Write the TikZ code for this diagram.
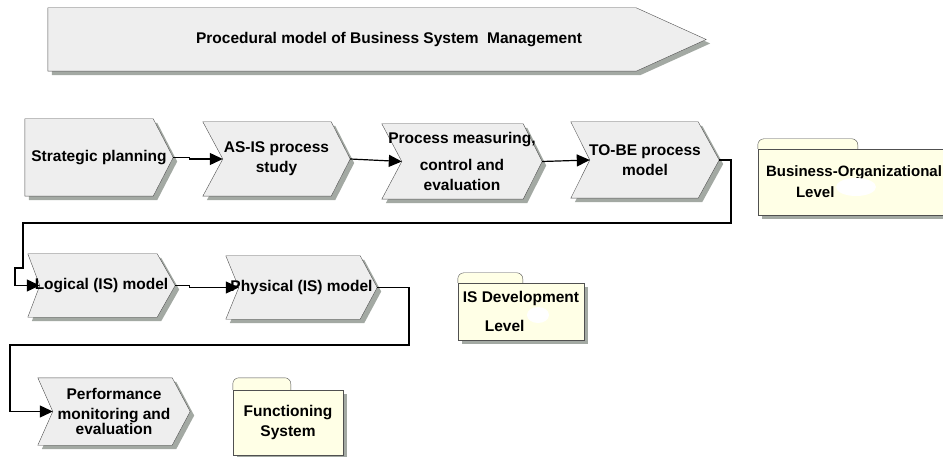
\documentclass[tikz,border=0pt]{standalone}
\usepackage{fontspec}
\setmainfont{Liberation Sans}
\usetikzlibrary{shadows,arrows.meta,backgrounds}
\definecolor{chevfill}{HTML}{EEEEEE}
\definecolor{chevline}{HTML}{505050}
\definecolor{shade}{HTML}{A3A9A3}
\definecolor{foldfill}{HTML}{FFFFE6}
\tikzset{
  chev/.style={rectangle, inner sep=0pt, align=center},
  chevbody/.style={draw=chevline, fill=chevfill,
    drop shadow={shadow xshift=4pt, shadow yshift=-4pt, fill=shade, opacity=1}},
  folder/.style={rectangle, draw=chevline, fill=foldfill, inner sep=0pt, align=center,
    drop shadow={shadow xshift=4pt, shadow yshift=-4pt, fill=shade, opacity=1}},
  tab/.style={draw=chevline, fill=foldfill, rounded corners=6pt},
  link/.style={->, line width=1.2pt, black},
}
\begin{document}
\begin{tikzpicture}[x=1pt,y=-1pt,font=\fontsize{15.5}{20}\selectfont\bfseries,
    >={Triangle[length=13pt,width=12pt]}]
\useasboundingbox (0,0) rectangle (943,457);
% banner
\node[chev, minimum width=658pt, minimum height=63pt] (banner) at (377,39.5)
  {\hspace*{24pt}Procedural model of Business System\ \ Management};
% business-organizational level
\node[chev, minimum width=148pt, minimum height=77pt] (strat) at (99,157.5) {Strategic planning};
\node[chev, minimum width=147pt, minimum height=74pt] (asis) at (276.5,159) {AS-IS process\\study};
\node[chev, minimum width=160pt, minimum height=75pt] (meas) at (462,161.5) {Process measuring,\\[7pt]control and\\evaluation};
\node[chev, minimum width=148pt, minimum height=76pt] (tobe) at (645,160) {TO-BE process\\model};
% is development level
\node[chev, minimum width=147pt, minimum height=63pt] (logic) at (101.5,285.5) {Logical (IS) model};
\node[chev, minimum width=151pt, minimum height=63pt] (phys) at (301.5,287.5) {Physical (IS) model};
% functioning system
\node[chev, minimum width=152pt, minimum height=67pt] (perf) at (114,411.5) {Performance\\monitoring and\\[-5pt]evaluation};
% chevron outlines behind the texts
\begin{scope}[on background layer]
\foreach \n/\p/\d in {banner/70/0, strat/20/0, asis/19/20, meas/19/20, tobe/21/19,
    logic/18/12, phys/17/13, perf/18/15}{
  \draw[chevbody] (\n.north west) -- ([xshift=-\p pt]\n.north east) -- (\n.east)
    -- ([xshift=-\p pt]\n.south east) -- (\n.south west) -- ([xshift=\d pt]\n.west) -- cycle;
  \coordinate (\n-in) at ([xshift=\d pt]\n.west);
}
\end{scope}
% levels
\node[folder, minimum width=192pt, minimum height=66pt, align=left,
  font=\fontsize{15}{20}\selectfont\bfseries] (bizlvl) at (854,182)
  {Business-Organizational\\[1pt]\hspace*{30pt}Level};
\draw[tab] (bizlvl.north west) -- ++(0,-10) -- ++(100,0) -- ++(0,10);
\fill[white] (856,187) ellipse (20 and 9);
\node[folder, minimum width=126pt, minimum height=57pt, align=left] (islvl) at (521,311.5)
  {IS Development\\[9pt]\hspace*{22pt}Level};
\draw[tab] (islvl.north west) -- ++(0,-10) -- ++(65,0) -- ++(0,10);
\fill[white] (538,315) ellipse (11 and 8);
\node[folder, minimum width=110pt, minimum height=65pt] (fnlvl) at (288,422.5)
  {Functioning\\System};
\draw[tab] (fnlvl.north west) -- ++(0,-12) -- ++(58,0) -- ++(0,12);
% connectors
\draw[link] (strat.east) -- ++(16,0) |- (asis-in);
\draw[link] (asis.east) -- (meas-in);
\draw[link] (meas.east) -- (tobe-in);
\draw[link] (tobe.east) -| (731,223) -| (23,268) -- (15,268) |- (logic-in);
\draw[link] (logic.east) -- ++(14,0) |- (phys-in);
\draw[link] (phys.east) -| (409,345) -- (10,345) |- (perf-in);
\end{tikzpicture}
\end{document}
